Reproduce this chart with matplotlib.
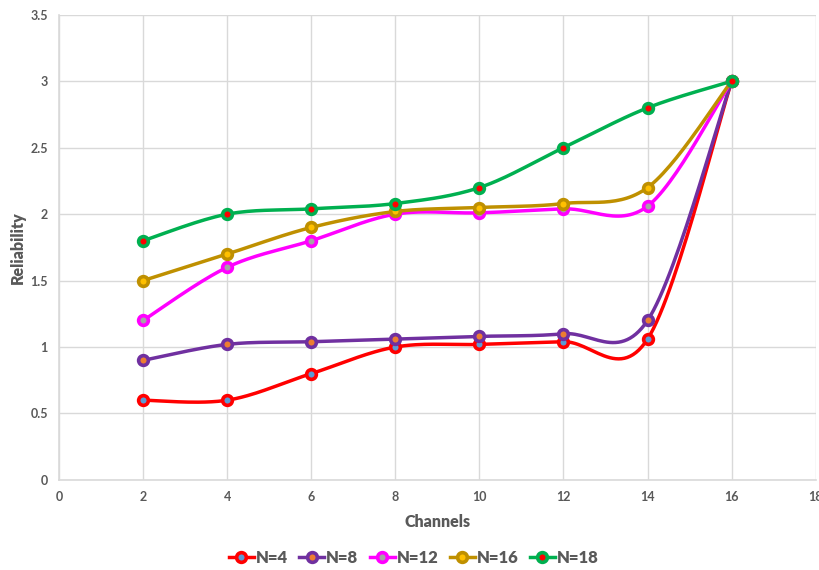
import matplotlib.pyplot as plt
import numpy as np

plt.rcParams['font.family'] = ['Lato', 'DejaVu Sans']

channels = [2, 4, 6, 8, 10, 12, 14, 16]
n4 = [0.6, 0.6, 0.8, 1.0, 1.02, 1.04, 1.06, 3.0]
n8 = [0.9, 1.02, 1.04, 1.06, 1.08, 1.1, 1.2, 3.0]
n12 = [1.2, 1.6, 1.8, 2.0, 2.01, 2.04, 2.06, 3.0]
n16 = [1.5, 1.7, 1.9, 2.02, 2.05, 2.08, 2.2, 3.0]
n18 = [1.8, 2.0, 2.04, 2.08, 2.2, 2.5, 2.8, 3.0]

series = [
    ('N=4', n4, '#FF0000', '#5B9BD5'),
    ('N=8', n8, '#7030A0', '#ED7D31'),
    ('N=12', n12, '#FF00FF', '#A5A5A5'),
    ('N=16', n16, '#BF9000', '#FFC000'),
    ('N=18', n18, '#00B050', '#FF0000'),
]


def smooth(x, y, steps=30):
    # bezier smoothing between points, control points from neighbours
    p = np.column_stack([x, y]).astype(float)
    n = len(p)
    out = []
    for i in range(n - 1):
        p0 = p[i - 1] if i > 0 else p[i]
        p1 = p[i]
        p2 = p[i + 1]
        p3 = p[i + 2] if i + 2 < n else p[i + 1]
        c1 = p1 + (p2 - p0) / 6
        c2 = p2 - (p3 - p1) / 6
        t = np.linspace(0, 1, steps)[:, None]
        seg = ((1 - t) ** 3 * p1 + 3 * (1 - t) ** 2 * t * c1
               + 3 * (1 - t) * t ** 2 * c2 + t ** 3 * p2)
        out.append(seg if i == 0 else seg[1:])
    out = np.vstack(out)
    return out[:, 0], out[:, 1]


fig = plt.figure(figsize=(8.19, 5.70), dpi=100)
ax = fig.add_axes([0.072, 0.158, 0.924, 0.816])

handles = []
for label, vals, col, dot in series:
    sx, sy = smooth(channels, vals)
    ax.plot(sx, sy, color=col, lw=2.5, solid_capstyle='round', zorder=3)
    ax.plot(channels, vals, 'o', color=col, ms=7, mfc=dot, mec=col, mew=2.6, zorder=4)
    h, = ax.plot([], [], '-o', color=col, lw=2.5, ms=7, mfc=dot, mec=col, mew=2.6, label=label)
    handles.append(h)

ax.set_xlim(0, 18)
ax.set_ylim(0, 3.5)
ax.set_xticks(np.arange(0, 19, 2))
ax.set_yticks(np.arange(0, 3.51, 0.5))
ax.set_yticklabels(['0', '0.5', '1', '1.5', '2', '2.5', '3', '3.5'])
ax.grid(True, color='#D9D9D9', lw=1)
ax.set_axisbelow(True)
for s in ['top', 'right']:
    ax.spines[s].set_visible(False)
for s in ['left', 'bottom']:
    ax.spines[s].set_color('#D9D9D9')
    ax.spines[s].set_linewidth(1.2)
ax.tick_params(length=0, labelsize=9, labelcolor='#595959', pad=8)
for lab in ax.get_xticklabels() + ax.get_yticklabels():
    lab.set_fontweight('bold')

ax.set_xlabel('Channels', fontsize=11.5, fontweight='heavy', color='#595959', labelpad=8)
ax.set_ylabel('Reliability', fontsize=11.5, fontweight='heavy', color='#595959', labelpad=3)

fig.legend(handles=handles, loc='center', bbox_to_anchor=(0.505, 0.021), ncol=5,
           frameon=False, handlelength=1.5, handletextpad=0.1, columnspacing=0.7,
           prop={'size': 12, 'weight': 'heavy'}, labelcolor='#595959')

fig.savefig('out.png', dpi=100)
